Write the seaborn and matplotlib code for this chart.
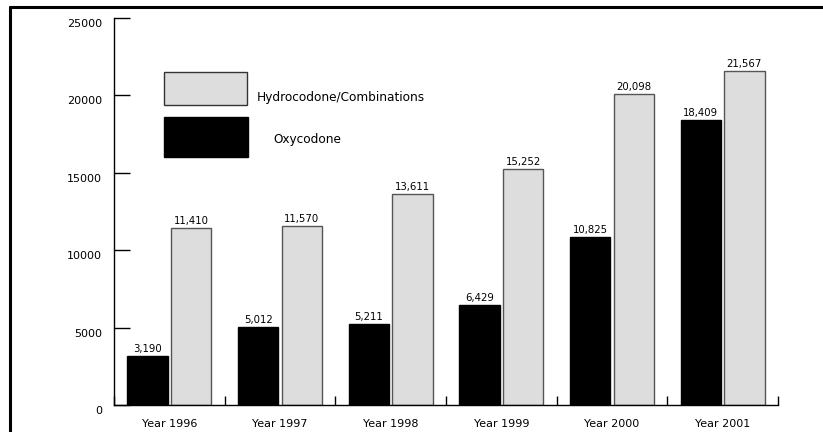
import numpy as np
import pandas as pd
import matplotlib
matplotlib.use("Agg")
import matplotlib.pyplot as plt
import matplotlib.transforms as mtransforms
from matplotlib.patches import Rectangle
from matplotlib.lines import Line2D
import seaborn as sns

years = ["Year 1996", "Year 1997", "Year 1998", "Year 1999", "Year 2000", "Year 2001"]
oxycodone = [3190, 5012, 5211, 6429, 10825, 18409]
hydrocodone = [11410, 11570, 13611, 15252, 20098, 21567]
series = ["Oxycodone", "Hydrocodone/Combinations"]
y_ticks = [0, 5000, 10000, 15000, 20000, 25000]

df = pd.DataFrame({
    "year": years * 2,
    "drug": [series[0]] * len(years) + [series[1]] * len(years),
    "count": oxycodone + hydrocodone,
})

sns.set_style("white")
plt.rcParams["font.family"] = ["DejaVu Sans"]

fig = plt.figure(figsize=(8.23, 4.32), dpi=100)
ax = fig.add_axes([114 / 823, 1 - 405 / 432, (778 - 114) / 823, (405 - 18) / 432])

gray = "#dddddd"
sns.barplot(data=df, x="year", y="count", hue="drug", hue_order=series,
            order=years, palette=["black", gray], width=0.785, gap=0.07,
            linewidth=1, legend=False, ax=ax, errorbar=None)

edge_cols = ["black", "#555555"]
for cont, ec, vals in zip(ax.containers, edge_cols, [oxycodone, hydrocodone]):
    for p in cont:
        p.set_edgecolor(ec)
    ax.bar_label(cont, labels=[f"{v:,}" for v in vals], padding=1.5,
                 fontsize=7.3, color="black")

ax.set_xlim(-0.5, len(years) - 0.5)
ax.set_ylim(0, 25000)
ax.set_yticks(y_ticks)
ax.set_yticklabels([str(t) for t in y_ticks])
ax.set_xlabel("")
ax.set_ylabel("")

for s in ["top", "right"]:
    ax.spines[s].set_visible(False)
for s in ["left", "bottom"]:
    ax.spines[s].set_color("black")
    ax.spines[s].set_linewidth(1.0)

ax.tick_params(axis="y", left=True, direction="in", length=11.5, width=1.0,
               color="black", pad=8.6, labelsize=8, labelcolor="black")
ax.tick_params(axis="x", which="major", bottom=True, length=0, pad=10,
               labelsize=8, labelcolor="black")
ax.set_xticks(np.arange(-0.5, len(years) + 0.5, 1.0), minor=True)
ax.tick_params(axis="x", which="minor", bottom=True, direction="in",
               length=6.5, width=1.0, color="black")

# shift the y tick labels slightly downward
offset = mtransforms.ScaledTranslation(0, -5 / 100, fig.dpi_scale_trans)
for lbl in ax.get_yticklabels():
    lbl.set_transform(lbl.get_transform() + offset)

ax.grid(False)

# legend drawn as swatches with labels
def px(x, y):
    return x / 823, 1 - y / 432

x0, y0 = px(164, 105)
fig.patches.append(Rectangle((x0, y0), 83 / 823, 33 / 432, transform=fig.transFigure,
                             facecolor=gray, edgecolor="#333333", linewidth=1))
x0, y0 = px(164, 157)
fig.patches.append(Rectangle((x0, y0), 84 / 823, 40 / 432, transform=fig.transFigure,
                             facecolor="black", edgecolor="black", linewidth=1))
tx, ty = px(257, 97)
fig.text(tx, ty, series[1], fontsize=8.7, va="center", ha="left", color="black")
tx, ty = px(273, 139)
fig.text(tx, ty, series[0], fontsize=8.7, va="center", ha="left", color="black")

# outer frame (top and left)
fig.add_artist(Line2D([10 / 823, 1.0], [1 - 6.5 / 432, 1 - 6.5 / 432],
                      transform=fig.transFigure, color="black", linewidth=2.2))
fig.add_artist(Line2D([10 / 823, 10 / 823], [0.0, 1 - 6.5 / 432],
                      transform=fig.transFigure, color="black", linewidth=2.2))

fig.savefig("out.png", dpi=100, facecolor="white")
